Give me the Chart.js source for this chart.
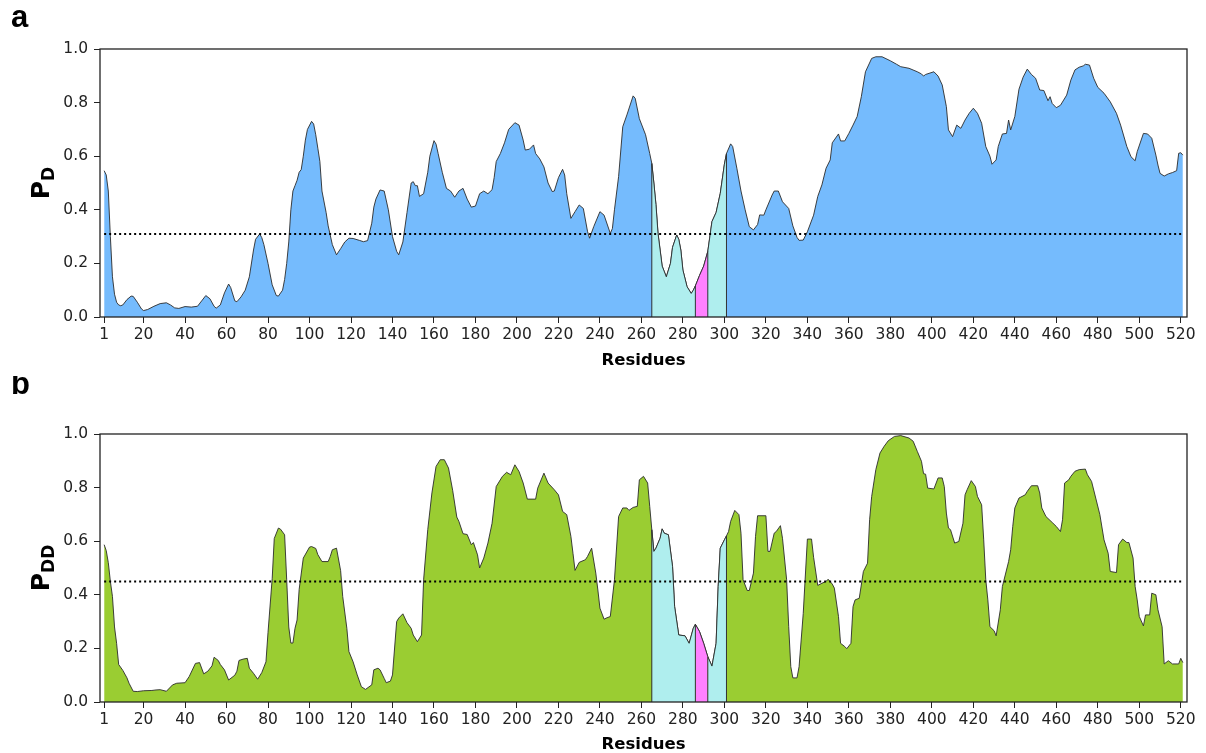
<!DOCTYPE html>
<html>
<head>
<meta charset="utf-8">
<script src="https://cdn.jsdelivr.net/npm/chart.js@4.4.1/dist/chart.umd.min.js"></script>
<style>
  html, body { margin: 0; padding: 0; background: #ffffff; }
  #wrap { position: relative; width: 1206px; height: 753px; overflow: hidden; }
  canvas { position: absolute; left: 0; }
  #panelA { top: 0; }
  #panelB { top: 376px; }
</style>
</head>
<body>
<div id="wrap">
  <canvas id="panelA" width="1206" height="376"></canvas>
  <canvas id="panelB" width="1206" height="377"></canvas>
</div>
<script>
// ---- per-residue disorder probability P_D (panel a) ----
const residuesD = [
  1,2,3,4,5,6,7,8,9,10,12,14,15,17,19,20,22,25,28,31,33,35,37,40,43,46,48,50,52,54,55,57,59,61,62,64,65,67,69,71,
  73,74,76,77,78,80,82,84,85,87,88,89,90,91,92,93,94,95,96,97,98,99,101,102,103,104,105,106,108,109,111,113,115,117,
  119,121,124,126,128,130,131,132,134,136,138,140,142,143,145,147,149,150,151,152,153,155,157,158,160,161,162,164,
  166,168,170,172,174,176,178,180,182,184,186,188,189,190,192,194,196,199,201,203,204,206,208,209,211,213,215,217,
  218,220,222,223,224,226,228,230,232,234,235,237,240,242,245,246,247,249,251,253,256,257,259,260,262,264,265,266,
  267,268,270,272,274,275,277,278,279,280,282,284,285,286,288,290,292,294,296,298,300,301,303,304,306,308,310,312,
  314,316,317,319,320,323,324,326,328,331,333,335,336,338,340,343,345,347,349,351,352,355,356,358,360,362,364,366,
  368,371,373,376,380,383,385,389,393,395,396,397,401,403,405,407,408,410,412,414,416,418,420,422,424,426,428,429,
  431,432,434,436,437,438,440,442,444,446,448,450,452,454,456,457,458,460,462,465,467,469,471,473,474,476,478,480,
  483,486,489,491,494,496,498,499,502,504,506,508,509,510,512,514,516,518,519,520,521
];
const valuesD = [
  .546,.53,.47,.30,.15,.085,.055,.045,.042,.045,.065,.078,.077,.055,.030,.024,.028,.040,.050,.053,.045,.034,.032,.039,.037,.040,.060,.080,.068,.040,.033,.045,.090,.123,.110,.060,.057,.075,.100,.150,
  .250,.290,.310,.296,.270,.200,.120,.080,.078,.100,.140,.200,.280,.400,.470,.490,.510,.540,.550,.600,.660,.700,.730,.720,.680,.630,.580,.470,.390,.340,.270,.232,.255,.280,
  .294,.293,.286,.281,.285,.350,.410,.440,.474,.470,.400,.300,.245,.232,.280,.390,.500,.505,.490,.490,.450,.460,.540,.600,.658,.645,.610,.540,
  .480,.470,.447,.470,.480,.440,.410,.414,.460,.470,.460,.475,.520,.580,.610,.650,.700,.725,.716,.660,.623,.626,.642,.610,.590,.560,.500,.468,
  .470,.520,.551,.530,.460,.368,.393,.418,.405,.320,.294,.337,.393,.380,.312,.330,.400,.524,.710,.754,.825,.816,.740,.720,.680,.610,.573,.500,
  .420,.312,.190,.150,.200,.260,.306,.290,.250,.175,.113,.088,.100,.116,.155,.190,.245,.356,.390,.461,.570,.610,.646,.636,.555,.470,.400,.337,
  .325,.345,.381,.380,.400,.455,.470,.470,.430,.405,.340,.297,.286,.287,.318,.380,.450,.493,.555,.586,.650,.683,.657,.657,.685,.716,.748,.822,
  .915,.965,.971,.971,.956,.943,.934,.928,.915,.907,.899,.905,.915,.899,.866,.785,.698,.673,.716,.704,.735,.760,.779,.760,.723,.636,.600,.570,
  .586,.636,.683,.685,.735,.698,.748,.850,.895,.925,.905,.891,.847,.845,.807,.822,.797,.781,.790,.828,.884,.922,.932,.937,.943,.940,.891,.857,
  .835,.803,.760,.716,.636,.598,.583,.617,.685,.683,.667,.604,.567,.536,.526,.534,.539,.546,.611,.613,.604
];

// ---- per-residue disorder probability P_DD (panel b) ----
const residuesDD = [
  1,2,3,4,5,6,7,8,10,12,13,15,17,20,24,26,28,31,34,36,40,42,45,47,49,51,53,54,56,57,59,61,64,65,66,68,70,71,73,75,
  77,79,80,82,83,85,86,88,89,90,91,92,93,94,95,97,100,101,103,104,106,109,110,111,113,115,116,118,119,121,123,125,127,130,
  131,133,134,136,137,139,140,142,143,145,147,149,150,152,154,155,157,159,161,163,165,167,169,171,172,174,176,178,179,181,
  182,184,186,188,190,193,195,197,199,201,203,205,209,210,213,215,218,220,222,224,226,227,228,230,233,234,236,238,239,240,
  242,243,245,247,249,251,253,254,256,258,259,261,263,264,265,266,267,269,270,271,273,275,276,278,281,283,285,286,288,290,
  292,294,296,297,298,300,301,302,303,305,307,308,309,311,312,314,315,316,320,321,322,324,325,327,328,330,331,332,333,335,
  336,338,340,342,343,345,347,349,350,352,353,355,356,358,359,361,362,363,365,367,369,370,371,373,375,377,379,382,385,389,
  391,393,395,396,397,398,401,403,405,406,407,408,409,411,413,415,416,417,419,421,422,424,425,426,427,428,430,431,433,434,
  437,438,439,440,442,445,446,448,451,452,453,455,458,460,462,463,464,466,467,469,471,474,475,477,479,481,483,485,486,489,
  490,492,494,495,497,498,499,500,502,503,505,506,508,509,511,512,514,516,519,520,521
];
const valuesDD = [
  .587,.565,.52,.45,.394,.28,.219,.14,.118,.09,.07,.04,.039,.042,.043,.045,.046,.04,.064,.07,.072,.095,.144,.147,.105,.115,.135,.167,.155,.14,.12,.082,.10,.115,.155,.16,.163,.126,.107,.085,
  .11,.15,.26,.46,.61,.649,.645,.624,.456,.28,.22,.22,.275,.306,.42,.537,.578,.58,.573,.55,.524,.524,.543,.568,.574,.49,.394,.275,.188,.15,.101,.057,.047,.064,
  .12,.126,.12,.088,.072,.078,.101,.30,.313,.329,.296,.275,.25,.225,.25,.456,.643,.78,.879,.904,.904,.873,.79,.69,.674,.628,.625,.587,.595,.549,
  .50,.537,.593,.667,.804,.842,.857,.848,.885,.86,.817,.757,.757,.798,.854,.817,.792,.773,.711,.699,.618,.555,.491,.521,.531,.543,.574,.481,.418,.35,
  .309,.313,.319,.456,.692,.724,.724,.715,.726,.73,.829,.842,.817,.73,.643,.562,.574,.611,.646,.63,.624,.506,.356,.25,.247,.219,.275,.29,.263,.219,
  .169,.134,.219,.431,.574,.605,.62,.636,.674,.715,.699,.63,.456,.416,.416,.481,.618,.695,.695,.562,.562,.63,.636,.658,.611,.456,.281,.132,.09,.09,
  .132,.33,.608,.608,.54,.435,.443,.45,.458,.44,.425,.319,.219,.207,.199,.219,.356,.381,.387,.487,.518,.68,.767,.867,.929,.954,.975,.991,.994,.985,
  .973,.935,.898,.852,.85,.798,.795,.836,.836,.804,.705,.649,.643,.593,.599,.667,.773,.792,.826,.804,.767,.736,.605,.456,.381,.281,.266,.247,.344,.431,
  .524,.568,.655,.724,.761,.773,.786,.807,.807,.78,.724,.692,.67,.655,.636,.68,.817,.829,.842,.861,.867,.869,.848,.823,.761,.699,.605,.555,.487,.483,
  .587,.608,.595,.595,.537,.431,.381,.319,.284,.325,.325,.406,.40,.344,.281,.142,.154,.142,.142,.163,.147
];

// ---- cut-offs, highlighted residue spans and axis ticks ----
const cutoffD = 0.31;
const cutoffDD = 0.45;
const spanStarts = [265, 286, 292];
const spanEnds = [286, 292, 301];
const xTickValues = [1, 20, 40, 60, 80, 100, 120, 140, 160, 180, 200, 220, 240, 260, 280, 300, 320, 340, 360, 380, 400, 420, 440, 460, 480, 500, 520];
const yTickValues = [0.0, 0.2, 0.4, 0.6, 0.8, 1.0];

// ---- styling ----
const spanColors = ['#afeeee', '#ff80ff', '#afeeee'];
const curveColor = '#2b2b2b';
const axisColor = '#222222';
const tickFont = { family: 'DejaVu Sans', size: 15.5 };

const framePlugin = {
  id: 'frame',
  afterDatasetsDraw(chart) {
    const a = chart.chartArea, ctx = chart.ctx;
    ctx.save();
    ctx.strokeStyle = axisColor;
    ctx.lineWidth = 1.3;
    ctx.strokeRect(a.left, a.top, a.right - a.left, a.bottom - a.top);
    ctx.restore();
  }
};

const labelPlugin = {
  id: 'panelLabels',
  afterDraw(chart, args, opts) {
    const a = chart.chartArea, ctx = chart.ctx;
    ctx.save();
    ctx.fillStyle = '#000';
    ctx.textBaseline = 'alphabetic';
    // panel letter
    ctx.textAlign = 'left';
    ctx.font = 'bold 31px "Liberation Sans", Arial, sans-serif';
    ctx.fillText(opts.letter, 11, opts.letterY);
    // x axis title
    ctx.textAlign = 'center';
    ctx.font = 'bold 16.5px "DejaVu Sans"';
    ctx.fillText('Residues', (a.left + a.right) / 2, opts.titleY);
    // y axis title with subscript
    const mainFont = 'bold 25px "DejaVu Sans"';
    const subFont = 'bold 17px "DejaVu Sans"';
    ctx.font = mainFont;
    const wMain = ctx.measureText('P').width;
    ctx.font = subFont;
    const wSub = ctx.measureText(opts.sub).width;
    const total = wMain + wSub;
    ctx.translate(49, (a.top + a.bottom) / 2);
    ctx.rotate(-Math.PI / 2);
    ctx.textAlign = 'left';
    ctx.font = mainFont;
    ctx.fillText('P', -total / 2, 0);
    ctx.font = subFont;
    ctx.fillText(opts.sub, -total / 2 + wMain, 5);
    ctx.restore();
  }
};

function makePanel(canvasId, residues, values, cutoff, fillColor, cfg) {
  const points = residues.map((r, i) => ({ x: r, y: values[i] }));
  const valueAt = r => values[residues.indexOf(r)];
  const datasets = [];

  // dotted cut-off line
  datasets.push({
    data: [{ x: residues[0], y: cutoff }, { x: residues[residues.length - 1], y: cutoff }],
    borderColor: '#000', borderWidth: 2, borderDash: [2, 3], borderCapStyle: 'butt',
    pointRadius: 0, fill: false, order: 0
  });

  // vertical edges of the highlighted spans
  const edges = [...new Set(spanStarts.concat(spanEnds))];
  edges.forEach(e => datasets.push({
    data: [{ x: e, y: 0 }, { x: e, y: valueAt(e) }],
    borderColor: '#333', borderWidth: 1, pointRadius: 0, fill: false, order: 1
  }));

  // highlighted spans
  spanStarts.forEach((s, k) => datasets.push({
    data: points.filter(p => p.x >= s && p.x <= spanEnds[k]),
    backgroundColor: spanColors[k], borderColor: curveColor, borderWidth: 0.9,
    pointRadius: 0, fill: 'origin', order: 2
  }));

  // full profile
  datasets.push({
    data: points, backgroundColor: fillColor, borderColor: curveColor, borderWidth: 0.9,
    pointRadius: 0, fill: 'origin', order: 3
  });

  return new Chart(document.getElementById(canvasId), {
    type: 'line',
    data: { datasets },
    options: {
      responsive: false,
      animation: false,
      devicePixelRatio: 1,
      parsing: false,
      layout: { padding: { top: cfg.top, right: 19, left: 0, bottom: 0 } },
      elements: { line: { tension: 0 } },
      plugins: {
        legend: { display: false },
        tooltip: { enabled: false },
        panelLabels: { letter: cfg.letter, letterY: cfg.letterY, titleY: cfg.titleY, sub: cfg.sub }
      },
      scales: {
        x: {
          type: 'linear', min: -1, max: 523,
          afterBuildTicks: s => { s.ticks = xTickValues.map(v => ({ value: v })); },
          afterFit: s => { s.height = cfg.xHeight; s.paddingLeft = 0; s.paddingRight = 0; },
          ticks: { autoSkip: false, maxRotation: 0, minRotation: 0, padding: 2.5, color: axisColor, font: tickFont, callback: v => String(v) },
          grid: { drawOnChartArea: false, drawTicks: true, tickLength: 6, color: axisColor, lineWidth: 1 },
          border: { display: false }
        },
        y: {
          type: 'linear', min: 0, max: 1,
          afterBuildTicks: s => { s.ticks = yTickValues.map(v => ({ value: v })); },
          afterFit: s => { s.width = 100; s.paddingTop = 0; s.paddingBottom = 0; },
          ticks: { padding: 6, color: axisColor, font: tickFont, callback: v => Number(v).toFixed(1) },
          grid: { drawOnChartArea: false, drawTicks: true, tickLength: 6, color: axisColor, lineWidth: 1 },
          border: { display: false }
        }
      }
    },
    plugins: [framePlugin, labelPlugin]
  });
}

makePanel('panelA', residuesD, valuesD, cutoffD, '#75bbfd',
  { top: 49, xHeight: 59, letter: 'a', letterY: 27, titleY: 365, sub: 'D' });
makePanel('panelB', residuesDD, valuesDD, cutoffDD, '#9acd32',
  { top: 58, xHeight: 51, letter: 'b', letterY: 18, titleY: 373, sub: 'DD' });
</script>
</body>
</html>
